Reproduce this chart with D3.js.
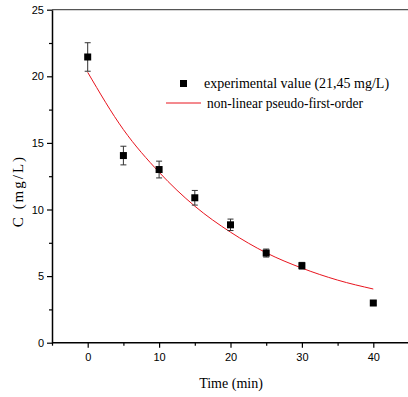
<!DOCTYPE html>
<html>
<head>
<meta charset="utf-8">
<script src="https://cdn.jsdelivr.net/npm/d3@7"></script>
<style>
  body { margin: 0; background: #fff; }
  svg { display: block; }
  .tick text { font-family: "Liberation Sans Narrow", "Liberation Sans", Arial, sans-serif; font-size: 11px; fill: #000; }
  .lbl { font-family: "Liberation Serif", "Times New Roman", serif; font-size: 14px; fill: #000; }
</style>
</head>
<body>
<script>
// measured concentrations with error bars
const times = [0, 5, 10, 15, 20, 25, 30, 40];
const conc = [21.45, 14.05, 13.0, 10.88, 8.85, 6.73, 5.78, 2.98];
const errs = [1.07, 0.7, 0.63, 0.55, 0.43, 0.3, 0.25, 0.15];

// fitted curve
const fitTimes = [0, 5, 10, 15, 20, 25, 30, 35, 40];
const fitConc = [20.3, 16.0, 12.8, 10.25, 8.3, 6.75, 5.6, 4.7, 4.03];

const xTicks = [0, 10, 20, 30, 40];
const xMinor = [-5, 5, 15, 25, 35, 45];
const yTicks = [0, 5, 10, 15, 20, 25];
const yMinor = [2.5, 7.5, 12.5, 17.5, 22.5];

const W = 408, H = 397;
const svg = d3.select("body").append("svg").attr("width", W).attr("height", H);

const x = d3.scaleLinear().domain([-5, 45]).range([52, 409]);
const y = d3.scaleLinear().domain([0, 25]).range([342.7, 9.7]);

// top frame line
svg.append("line")
  .attr("x1", x(-5)).attr("x2", W)
  .attr("y1", y(25)).attr("y2", y(25))
  .attr("stroke", "#555").attr("stroke-width", 1.2);

// minor ticks
svg.append("g").attr("transform", `translate(0,${y(0)})`)
  .call(d3.axisBottom(x).tickValues(xMinor).tickSize(3).tickFormat(""))
  .call(g => g.select(".domain").remove())
  .selectAll("line").attr("stroke", "#000").attr("stroke-width", 1.2);
svg.append("g").attr("transform", `translate(${x(-5)},0)`)
  .call(d3.axisLeft(y).tickValues(yMinor).tickSize(3).tickFormat(""))
  .call(g => g.select(".domain").remove())
  .selectAll("line").attr("stroke", "#000").attr("stroke-width", 1.2);

// main axes
const xAxis = svg.append("g").attr("transform", `translate(0,${y(0)})`)
  .call(d3.axisBottom(x).tickValues(xTicks).tickSize(5).tickSizeOuter(0).tickPadding(6));
const yAxis = svg.append("g").attr("transform", `translate(${x(-5)},0)`)
  .call(d3.axisLeft(y).tickValues(yTicks).tickSize(5).tickSizeOuter(0).tickPadding(3));
[xAxis, yAxis].forEach(g => {
  g.select(".domain").attr("stroke", "#000").attr("stroke-width", 1.5);
  g.selectAll(".tick line").attr("stroke", "#000").attr("stroke-width", 1.2);
});
xAxis.select(".domain").attr("d", `M${x(-5)},0H${W}`);

// fitted line
svg.append("path")
  .datum(fitTimes.map((t, i) => [t, fitConc[i]]))
  .attr("fill", "none").attr("stroke", "#e8141e").attr("stroke-width", 1)
  .attr("d", d3.line().x(d => x(d[0])).y(d => y(d[1])).curve(d3.curveMonotoneX));

// error bars
const pts = times.map((t, i) => ({ t, c: conc[i], e: errs[i] }));
const eb = svg.append("g").attr("stroke", "#333").attr("stroke-width", 1);
eb.selectAll(".v").data(pts).join("line")
  .attr("x1", d => x(d.t)).attr("x2", d => x(d.t))
  .attr("y1", d => y(d.c + d.e)).attr("y2", d => y(d.c - d.e));
eb.selectAll(".t").data(pts).join("line")
  .attr("x1", d => x(d.t) - 3).attr("x2", d => x(d.t) + 3)
  .attr("y1", d => y(d.c + d.e)).attr("y2", d => y(d.c + d.e));
eb.selectAll(".b").data(pts).join("line")
  .attr("x1", d => x(d.t) - 3).attr("x2", d => x(d.t) + 3)
  .attr("y1", d => y(d.c - d.e)).attr("y2", d => y(d.c - d.e));

// markers
svg.append("g").selectAll("rect").data(pts).join("rect")
  .attr("x", d => x(d.t) - 3.5).attr("y", d => y(d.c) - 3.5)
  .attr("width", 7).attr("height", 7).attr("fill", "#000");

// legend
svg.append("rect").attr("x", 180).attr("y", 80).attr("width", 7).attr("height", 7).attr("fill", "#000");
svg.append("text").attr("class", "lbl").attr("x", 204).attr("y", 88).text("experimental value (21,45 mg/L)");
svg.append("line").attr("x1", 166).attr("x2", 201).attr("y1", 103).attr("y2", 103)
  .attr("stroke", "#e8141e").attr("stroke-width", 1);
svg.append("text").attr("class", "lbl").attr("x", 207).attr("y", 108)
  .attr("textLength", 156).attr("lengthAdjust", "spacingAndGlyphs")
  .text("non-linear pseudo-first-order");

// axis titles
svg.append("text").attr("class", "lbl").attr("x", 231).attr("y", 388)
  .attr("text-anchor", "middle").text("Time (min)");
svg.append("text").attr("class", "lbl")
  .attr("transform", "translate(23,191) rotate(-90)")
  .attr("text-anchor", "middle").style("font-size", "15px").style("letter-spacing", "2px")
  .text("C (mg/L)");
</script>
</body>
</html>
